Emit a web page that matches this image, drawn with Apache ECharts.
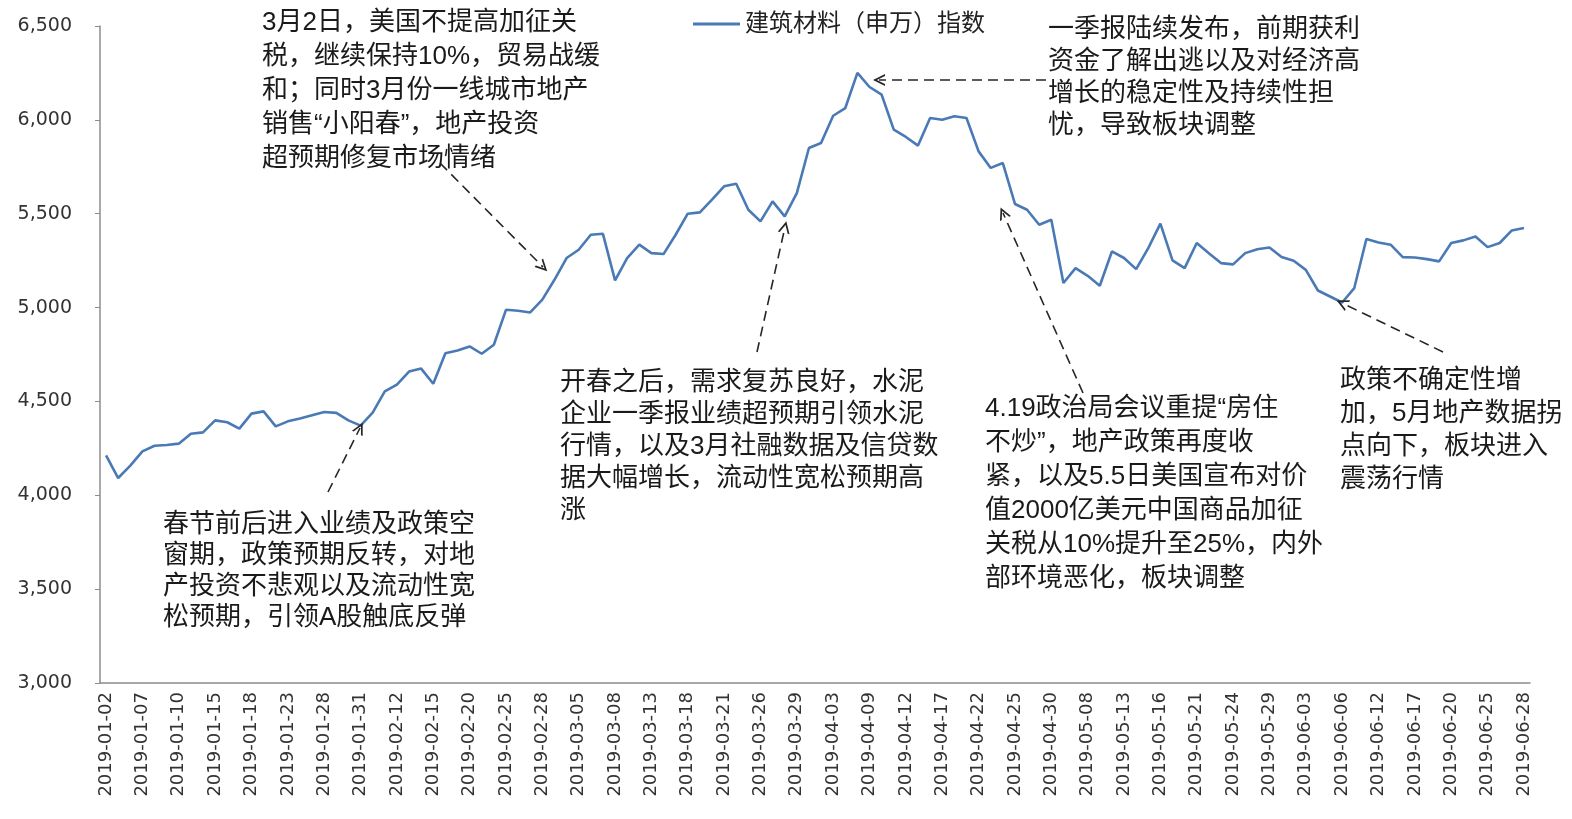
<!DOCTYPE html>
<html>
<head>
<meta charset="utf-8">
<script src="https://cdn.jsdelivr.net/npm/echarts@6/dist/echarts.min.js"></script>
<style>
  html, body { margin: 0; padding: 0; background: #fff; }
  #chart { width: 1572px; height: 819px; }
</style>
</head>
<body>
<div id="chart"></div>
<script>
// Trading days, Jan–Jun 2019
const dates = [
  '2019-01-02','2019-01-03','2019-01-04','2019-01-07','2019-01-08','2019-01-09','2019-01-10','2019-01-11',
  '2019-01-14','2019-01-15','2019-01-16','2019-01-17','2019-01-18','2019-01-21','2019-01-22','2019-01-23',
  '2019-01-24','2019-01-25','2019-01-28','2019-01-29','2019-01-30','2019-01-31',
  '2019-02-01','2019-02-11','2019-02-12','2019-02-13','2019-02-14','2019-02-15','2019-02-18','2019-02-19',
  '2019-02-20','2019-02-21','2019-02-22','2019-02-25','2019-02-26','2019-02-27','2019-02-28',
  '2019-03-01','2019-03-04','2019-03-05','2019-03-06','2019-03-07','2019-03-08','2019-03-11','2019-03-12',
  '2019-03-13','2019-03-14','2019-03-15','2019-03-18','2019-03-19','2019-03-20','2019-03-21','2019-03-22',
  '2019-03-25','2019-03-26','2019-03-27','2019-03-28','2019-03-29',
  '2019-04-01','2019-04-02','2019-04-03','2019-04-04','2019-04-08','2019-04-09','2019-04-10','2019-04-11',
  '2019-04-12','2019-04-15','2019-04-16','2019-04-17','2019-04-18','2019-04-19','2019-04-22','2019-04-23',
  '2019-04-24','2019-04-25','2019-04-26','2019-04-29','2019-04-30',
  '2019-05-06','2019-05-07','2019-05-08','2019-05-09','2019-05-10','2019-05-13','2019-05-14','2019-05-15',
  '2019-05-16','2019-05-17','2019-05-20','2019-05-21','2019-05-22','2019-05-23','2019-05-24','2019-05-27',
  '2019-05-28','2019-05-29','2019-05-30','2019-05-31',
  '2019-06-03','2019-06-04','2019-06-05','2019-06-06','2019-06-10','2019-06-11','2019-06-12','2019-06-13',
  '2019-06-14','2019-06-17','2019-06-18','2019-06-19','2019-06-20','2019-06-21','2019-06-24','2019-06-25',
  '2019-06-26','2019-06-27','2019-06-28'
];

// 建筑材料（申万）指数 daily close
const indexJan = [4213,4092,4158,4234,4264,4268,4275,4328,4335,4399,4389,4355,4435,4447,4367,4394,
                  4409,4426,4444,4439,4399,4371];
const indexFeb = [4440,4553,4590,4659,4675,4594,4757,4771,4793,4754,4802,4988,4983,4974,5042];
const indexMar = [5148,5264,5308,5388,5393,5145,5264,5335,5290,5285,5388,5500,5507,5575,5646,5660,
                  5521,5459,5566,5486,5610];
const indexApr = [5850,5877,6022,6063,6250,6175,6134,5948,5909,5863,6010,6001,6019,6010,5832,5744,
                  5770,5552,5521,5441,5468];
const indexMay = [5131,5210,5169,5116,5299,5264,5205,5317,5447,5251,5210,5344,5290,5237,5230,5290,
                  5311,5320,5269,5249];
const indexJun = [5201,5091,5059,5027,5104,5365,5347,5335,5269,5267,5258,5246,5344,5358,5379,5322,
                  5344,5411,5424];
const indexValues = [].concat(indexJan, indexFeb, indexMar, indexApr, indexMay, indexJun);

const seriesName = '建筑材料（申万）指数';
const yTicks = { min: 3000, max: 6500, step: 500 };

// Commentary blocks and their pointer arrows (pixel layout)
const notes = [
  { lines: ['3月2日，美国不提高加征关', '税，继续保持10%，贸易战缓', '和；同时3月份一线城市地产',
            '销售“小阳春”，地产投资', '超预期修复市场情绪'],
    x: 262, y: 6, lh: 34, from: [440, 163], to: [543, 267] },
  { lines: ['春节前后进入业绩及政策空', '窗期，政策预期反转，对地', '产投资不悲观以及流动性宽',
            '松预期，引领A股触底反弹'],
    x: 163, y: 509, lh: 31, from: [328, 492], to: [360, 428] },
  { lines: ['开春之后，需求复苏良好，水泥', '企业一季报业绩超预期引领水泥', '行情，以及3月社融数据及信贷数',
            '据大幅增长，流动性宽松预期高', '涨'],
    x: 560, y: 367, lh: 32, from: [757, 352], to: [785, 227] },
  { lines: ['一季报陆续发布，前期获利', '资金了解出逃以及对经济高', '增长的稳定性及持续性担',
            '忧，导致板块调整'],
    x: 1048, y: 14, lh: 32, from: [1046, 80], to: [879, 80] },
  { lines: ['4.19政治局会议重提“房住', '不炒”，地产政策再度收', '紧，以及5.5日美国宣布对价',
            '值2000亿美元中国商品加征', '关税从10%提升至25%，内外', '部环境恶化，板块调整'],
    x: 985, y: 392, lh: 34, from: [1083, 393], to: [1003, 213] },
  { lines: ['政策不确定性增', '加，5月地产数据拐', '点向下，板块进入', '震荡行情'],
    x: 1340, y: 364, lh: 33, from: [1443, 352], to: [1342, 303] }
];

const textFont = 'Liberation Sans, "Noto Sans CJK SC", sans-serif';
const chevron = 'path://M5,0 L10,10 L8.4,10 L5,3.2 L1.6,10 L0,10 Z';

const chart = echarts.init(document.getElementById('chart'), null, { renderer: 'canvas' });

chart.setOption({
  animation: false,
  backgroundColor: '#ffffff',
  grid: { left: 100, right: 42, top: 26, bottom: 136, containLabel: false },
  legend: {
    data: [seriesName],
    left: 688, top: 7,
    icon: 'rect',
    itemWidth: 47, itemHeight: 3,
    itemGap: 6,
    textStyle: { fontSize: 24, color: '#222', fontFamily: textFont }
  },
  xAxis: {
    type: 'category',
    data: dates,
    boundaryGap: true,
    axisLine: { lineStyle: { color: '#8c8c8c', width: 1.5 } },
    axisTick: { interval: 0, length: 5, lineStyle: { color: '#8c8c8c' } },
    axisLabel: {
      interval: 2, rotate: 90, margin: 9,
      fontSize: 18, color: '#333', fontFamily: 'DejaVu Sans'
    },
    splitLine: { show: false }
  },
  yAxis: {
    type: 'value',
    min: yTicks.min, max: yTicks.max, interval: yTicks.step,
    axisLine: { show: true, lineStyle: { color: '#8c8c8c', width: 1.5 } },
    axisTick: { show: true, length: 5, lineStyle: { color: '#8c8c8c' } },
    axisLabel: {
      margin: 28, fontSize: 19, color: '#333', fontFamily: 'DejaVu Sans',
      formatter: v => v.toLocaleString('en-US')
    },
    splitLine: { show: false }
  },
  series: [{
    name: seriesName,
    type: 'line',
    data: indexValues,
    symbol: 'none',
    lineStyle: { color: '#4a7ab5', width: 2.6 },
    itemStyle: { color: '#4a7ab5' },
    markLine: {
      silent: true,
      animation: false,
      symbol: ['none', chevron],
      symbolSize: [12, 12],
      label: { show: false },
      lineStyle: { color: '#262626', type: [10, 6], width: 1.6 },
      data: notes.map(n => [
        { x: n.from[0], y: n.from[1] },
        { x: n.to[0], y: n.to[1] }
      ])
    }
  }],
  graphic: notes.map(n => ({
    type: 'text',
    silent: true,
    style: {
      text: n.lines.join('\n'),
      x: n.x, y: n.y,
      fontSize: 26,
      lineHeight: n.lh,
      fontFamily: textFont,
      fill: '#1a1a1a'
    }
  }))
});
</script>
</body>
</html>
